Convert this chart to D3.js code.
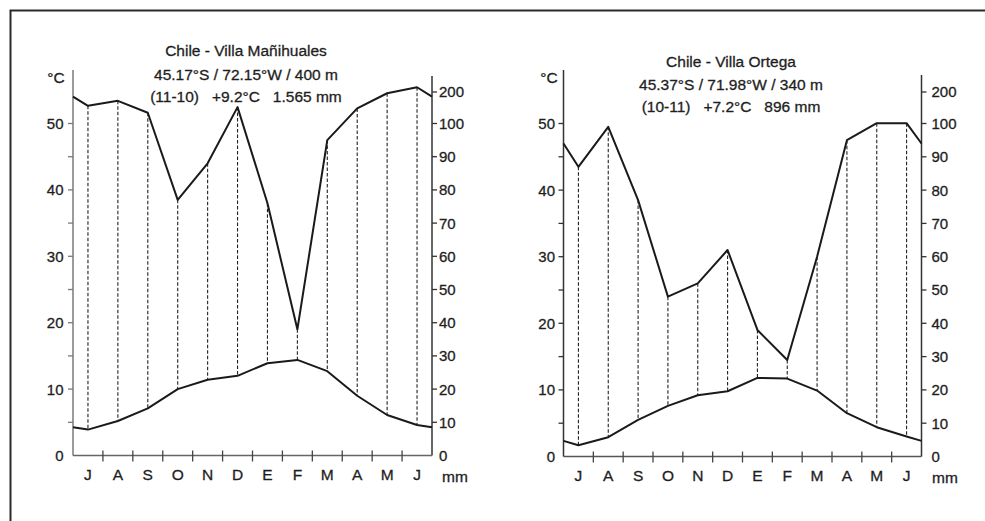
<!DOCTYPE html>
<html><head><meta charset="utf-8">
<script src="https://cdn.jsdelivr.net/npm/d3@7"></script>
<style>
body{margin:0;background:#fff}
svg{display:block}
text{font-family:"Liberation Sans",Arial,sans-serif;fill:#1e1e1e;stroke:#1e1e1e;stroke-width:0.3px}
</style>
</head><body>
<svg id="c" width="985" height="521"></svg>
<script>
// ---------- data ----------
const months = ["J","A","S","O","N","D","E","F","M","A","M","J"];

const titleManihuales = ["Chile - Villa Mañihuales", "45.17°S / 72.15°W / 400 m", "(11-10)   +9.2°C   1.565 mm"];
const tempManihuales   = [3.9, 5.2, 7.1, 10.0, 11.4, 12.0, 13.9, 14.4, 12.7, 9.0, 6.1, 4.6];
const precipManihuales = [156, 172, 134, 77, 88, 152, 76, 38, 95, 148, 196, 215];

const titleOrtega = ["Chile - Villa Ortega", "45.37°S / 71.98°W / 340 m", "(10-11)   +7.2°C   896 mm"];
const tempOrtega   = [1.7, 2.9, 5.5, 7.6, 9.2, 9.8, 11.8, 11.7, 9.9, 6.5, 4.4, 3.0];
const precipOrtega = [87, 99, 77, 48, 52, 62, 38, 29, 60, 95, 101, 101];

const tempTickLabels  = [0, 10, 20, 30, 40, 50];
const tempTicks       = [5, 10, 15, 20, 25, 30, 35, 40, 45, 50];
const precipTickLabels = [0, 10, 20, 30, 40, 50, 60, 70, 80, 90, 100, 200];

// ---------- layout ----------
const charts = [
  {title: titleManihuales, temp: tempManihuales, precip: precipManihuales,
   x0: 73, x1: 432, y0: 455.5, y50: 123.5, y200: 92, topL: 70, topR: 76,
   tx: 246, ty: [56, 79.5, 101.5], leftColor: "#7a7a7a", bottomColor: "#666",
   rightLabelGap: 7, leftLabelGap: 9.5, mmX: 455, degX: 56},
  {title: titleOrtega, temp: tempOrtega, precip: precipOrtega,
   x0: 563.5, x1: 921.5, y0: 456.5, y50: 123.5, y200: 92, topL: 70, topR: 75,
   tx: 731, ty: [66.5, 90, 112], leftColor: "#333", bottomColor: "#555",
   rightLabelGap: 10, leftLabelGap: 8.5, mmX: 945, degX: 549}
];

const svg = d3.select("#c");

// frame
svg.append("path").attr("d", "M10.5,521V10.5H985")
  .attr("fill", "none").attr("stroke", "#2a2a2a").attr("stroke-width", 2);

charts.forEach(c => {
  const g = svg.append("g");
  const x = d3.scaleBand().domain(d3.range(12)).range([c.x0, c.x1]).paddingInner(0).paddingOuter(0);
  const cx = i => x(i) + x.bandwidth() / 2;
  const yT = d3.scaleLinear().domain([0, 50]).range([c.y0, c.y50]);
  const yP = d3.scaleLinear().domain([0, 100, 200]).range([c.y0, c.y50, c.y200]);

  // titles
  c.title.forEach((t, i) => {
    g.append("text").attr("x", c.tx).attr("y", c.ty[i])
      .attr("text-anchor", "middle").attr("font-size", 15.5)
      .style("white-space", "pre").text(t);
  });

  // dashed month lines
  months.forEach((m, i) => {
    g.append("line").attr("x1", cx(i)).attr("x2", cx(i))
      .attr("y1", yP(c.precip[i])).attr("y2", yT(c.temp[i]))
      .attr("stroke", "#222").attr("stroke-width", 1.1).attr("stroke-dasharray", "3.5,2");
  });

  // axes
  g.append("line").attr("x1", c.x0).attr("x2", c.x0).attr("y1", c.y0).attr("y2", c.topL)
    .attr("stroke", c.leftColor).attr("stroke-width", 1.5);
  g.append("line").attr("x1", c.x1).attr("x2", c.x1).attr("y1", c.y0).attr("y2", c.topR)
    .attr("stroke", "#333").attr("stroke-width", 1.5);
  g.append("line").attr("x1", c.x0).attr("x2", c.x1).attr("y1", c.y0).attr("y2", c.y0)
    .attr("stroke", c.bottomColor).attr("stroke-width", 1.5);

  // left ticks
  tempTicks.forEach(v => {
    g.append("line").attr("x1", c.x0 - 5).attr("x2", c.x0).attr("y1", yT(v)).attr("y2", yT(v))
      .attr("stroke", c.leftColor).attr("stroke-width", 1.3);
  });
  tempTickLabels.forEach(v => {
    g.append("text").attr("x", c.x0 - c.leftLabelGap).attr("y", yT(v)).attr("dy", "0.36em")
      .attr("text-anchor", "end").attr("font-size", 15).text(v);
  });

  // right ticks
  precipTickLabels.forEach(v => {
    if (v > 0) {
      g.append("line").attr("x1", c.x1).attr("x2", c.x1 + 5).attr("y1", yP(v)).attr("y2", yP(v))
        .attr("stroke", "#333").attr("stroke-width", 1.3);
    }
    g.append("text").attr("x", c.x1 + c.rightLabelGap).attr("y", yP(v)).attr("dy", "0.36em")
      .attr("text-anchor", "start").attr("font-size", 15).text(v);
  });

  // bottom month ticks and labels
  d3.range(1, 12).forEach(i => {
    g.append("line").attr("x1", x(i)).attr("x2", x(i)).attr("y1", c.y0 - 5).attr("y2", c.y0 + 6)
      .attr("stroke", "#444").attr("stroke-width", 1.3);
  });
  months.forEach((m, i) => {
    g.append("text").attr("x", cx(i)).attr("y", c.y0 + 24)
      .attr("text-anchor", "middle").attr("font-size", 15.5).text(m);
  });
  g.append("text").attr("x", c.mmX).attr("y", c.y0 + 26.5).attr("text-anchor", "middle")
    .attr("font-size", 15.5).text("mm");
  g.append("text").attr("x", c.degX).attr("y", 83).attr("text-anchor", "middle")
    .attr("font-size", 15.5).text("°C");

  // curves (edges continue toward the neighbouring month, wrapping the year)
  const edge = arr => (arr[0] + arr[arr.length - 1]) / 2;
  const line = d3.line().x(d => d[0]).y(d => d[1]);
  const tPts = [[c.x0, yT(edge(c.temp))]].concat(c.temp.map((v, i) => [cx(i), yT(v)]), [[c.x1, yT(edge(c.temp))]]);
  const pPts = [[c.x0, yP(edge(c.precip))]].concat(c.precip.map((v, i) => [cx(i), yP(v)]), [[c.x1, yP(edge(c.precip))]]);
  g.append("path").attr("d", line(tPts)).attr("fill", "none").attr("stroke", "#1a1a1a")
    .attr("stroke-width", 2).attr("stroke-linejoin", "round");
  g.append("path").attr("d", line(pPts)).attr("fill", "none").attr("stroke", "#1a1a1a")
    .attr("stroke-width", 2).attr("stroke-linejoin", "round");
});
</script>
</body></html>
